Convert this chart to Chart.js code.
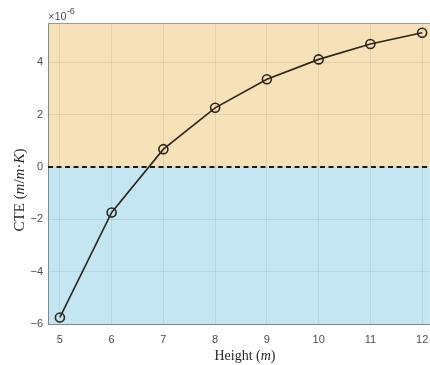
<!DOCTYPE html>
<html>
<head>
<meta charset="utf-8">
<script src="https://cdn.jsdelivr.net/npm/chart.js@4.4.0/dist/chart.umd.min.js"></script>
<style>
    html, body { margin: 0; padding: 0; background: #ffffff; overflow: hidden; }
    #cteChart { display: block; }
</style>
</head>
<body>
<!-- sedikit lebih lebar dari jendela: sisi kanan plot terpotong -->
<canvas id="cteChart" width="436" height="365"></canvas>
<script>
// tinggi (m) dan CTE dalam satuan 1e-6 m/m·K
const heights   = [5, 6, 7, 8, 9, 10, 11, 12];
const cteValues = [-5.75, -1.74, 0.68, 2.26, 3.35, 4.11, 4.70, 5.13];

const xTicks = [5, 6, 7, 8, 9, 10, 11, 12];
const yTicks = [-6, -4, -2, 0, 2, 4];

const xMin = 4.77, xMax = 12.15;
const yMin = -6,   yMax = 5.5;

// ==========================
// latar: oranye di atas 0, biru di bawah 0
// ==========================
const zoneBackground = {
    id: "zoneBackground",
    beforeDraw(chart) {
        const { ctx, chartArea: a, scales } = chart;
        const y0 = scales.y.getPixelForValue(0);
        ctx.save();
        ctx.fillStyle = "#f6e1b8";
        ctx.fillRect(a.left, a.top, a.right - a.left, y0 - a.top);
        ctx.fillStyle = "#c4e6f2";
        ctx.fillRect(a.left, y0, a.right - a.left, a.bottom - y0);
        ctx.restore();
    }
};

// teks campuran normal / italic, ditengahkan di (0,0)
function drawRuns(ctx, runs, size) {
    const fontOf = r => (r.italic ? "italic " : "") + size + "px 'Liberation Serif', 'Times New Roman', serif";
    let total = 0;
    runs.forEach(r => { ctx.font = fontOf(r); total += ctx.measureText(r.t).width; });
    let x = -total / 2;
    runs.forEach(r => {
        ctx.font = fontOf(r);
        ctx.fillText(r.t, x, 0);
        x += ctx.measureText(r.t).width;
    });
}

// ==========================
// judul sumbu, faktor ×10^-6, garis atas
// ==========================
const axisDecor = {
    id: "axisDecor",
    afterDraw(chart) {
        const { ctx, chartArea: a } = chart;
        ctx.save();

        // garis bingkai atas
        ctx.strokeStyle = "#a09a8c";
        ctx.lineWidth = 1;
        ctx.beginPath();
        ctx.moveTo(a.left, a.top + 0.5);
        ctx.lineTo(a.right, a.top + 0.5);
        ctx.stroke();

        ctx.fillStyle = "#262626";
        ctx.textBaseline = "middle";

        // judul sumbu x
        ctx.save();
        ctx.translate(245, 356);
        drawRuns(ctx, [{ t: "Height (" }, { t: "m", italic: true }, { t: ")" }], 14);
        ctx.restore();

        // judul sumbu y
        ctx.save();
        ctx.translate(20, 190);
        ctx.rotate(-Math.PI / 2);
        drawRuns(ctx, [
            { t: "CTE (" }, { t: "m", italic: true }, { t: "/" },
            { t: "m", italic: true }, { t: "·" }, { t: "K", italic: true }, { t: ")" }
        ], 15);
        ctx.restore();

        // faktor skala
        ctx.fillStyle = "#4d4d4d";
        ctx.textBaseline = "alphabetic";
        ctx.font = "11px 'Liberation Sans', Arial, sans-serif";
        ctx.fillText("×10", 48, 20);
        const w = ctx.measureText("×10").width;
        ctx.font = "9px 'Liberation Sans', Arial, sans-serif";
        ctx.fillText("-6", 48 + w, 14);

        ctx.restore();
    }
};

const tickFont = { family: "'Liberation Sans', Arial, sans-serif", size: 11 };
const minusLabel = v => String(v).replace("-", "\u2212");

new Chart(document.getElementById("cteChart").getContext("2d"), {
    type: "line",
    data: {
        datasets: [
            {
                label: "CTE",
                data: heights.map((h, i) => ({ x: h, y: cteValues[i] })),
                borderColor: "#2c2517",
                borderWidth: 1.6,
                pointRadius: 4.5,
                pointBorderWidth: 1.6,
                pointBackgroundColor: "rgba(0,0,0,0)",
                pointBorderColor: "#2c2517",
                tension: 0,
                order: 2
            },
            {
                label: "nol",
                data: [{ x: xMin, y: 0 }, { x: xMax, y: 0 }],
                borderColor: "#1a1a1a",
                borderWidth: 2,
                borderDash: [5, 3.5],
                pointRadius: 0,
                order: 1
            }
        ]
    },
    options: {
        responsive: false,
        animation: false,
        layout: { padding: { top: 23, right: 0, left: 0, bottom: 0 } },
        plugins: {
            legend: { display: false },
            tooltip: { enabled: false }
        },
        scales: {
            x: {
                type: "linear",
                min: xMin,
                max: xMax,
                afterBuildTicks: s => { s.ticks = xTicks.map(v => ({ value: v })); },
                afterFit: s => { s.height = 41; s.paddingLeft = 0; s.paddingRight = 0; },
                ticks: { font: tickFont, color: "#4d4d4d", padding: 9, maxRotation: 0, callback: minusLabel },
                grid: { color: "rgba(0,0,0,0.07)", drawTicks: false },
                border: { color: "#7f8a90", width: 1 }
            },
            y: {
                type: "linear",
                min: yMin,
                max: yMax,
                afterBuildTicks: s => { s.ticks = yTicks.map(v => ({ value: v })); },
                afterFit: s => { s.width = 48; s.paddingTop = 0; s.paddingBottom = 0; },
                ticks: { font: tickFont, color: "#4d4d4d", padding: 5, callback: minusLabel },
                grid: { color: "rgba(0,0,0,0.07)", drawTicks: false },
                border: { color: "#7f8a90", width: 1 }
            }
        }
    },
    plugins: [zoneBackground, axisDecor]
});
</script>
</body>
</html>
